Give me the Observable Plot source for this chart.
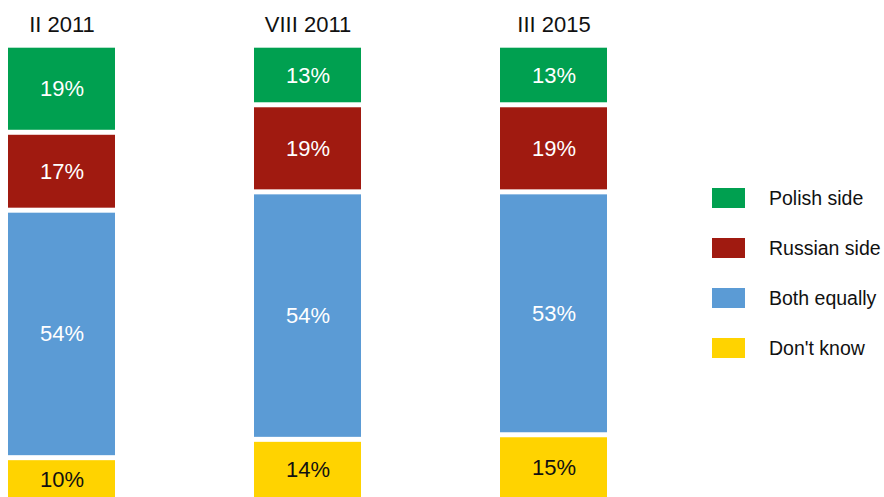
<!DOCTYPE html>
<html>
<head>
<meta charset="utf-8">
<script src="https://cdn.jsdelivr.net/npm/d3@7"></script>
<script src="https://cdn.jsdelivr.net/npm/@observablehq/plot@0.6"></script>
<style>
  html, body { margin: 0; padding: 0; background: #fff; overflow: hidden; }
  #wrap { position: relative; width: 884px; height: 497px; font-family: "Liberation Sans", Arial, sans-serif; }
  #legend { position: absolute; left: 712px; top: 188px; }
  .row { display: flex; align-items: center; height: 20px; margin-bottom: 30px; }
  .sw { width: 33px; height: 20px; margin-right: 24px; }
  .lab { font-size: 19.5px; color: #111; white-space: nowrap; }
</style>
</head>
<body>
<div id="wrap"></div>
<script>
const periods = ["II 2011", "VIII 2011", "III 2015"];
const answers = ["Polish side", "Russian side", "Both equally", "Don't know"];
const colors = ["#00A050", "#A01A10", "#5B9BD5", "#FFD300"];
const polish = [19, 13, 13];
const russian = [17, 19, 19];
const both = [54, 54, 53];
const dontKnow = [10, 14, 15];

const series = [polish, russian, both, dontKnow];
const data = [];
periods.forEach((p, i) => {
  answers.forEach((a, j) => data.push({period: p, answer: a, value: series[j][i]}));
});
const stackOrder = ["Don't know", "Both equally", "Russian side", "Polish side"];
const isDK = d => d.answer === "Don't know";

const chart = Plot.plot({
  width: 884,
  height: 497,
  marginLeft: 8,
  marginRight: 276,
  marginTop: 45.2,
  marginBottom: -6.5,
  style: {fontFamily: "Liberation Sans, Arial, sans-serif", background: "white"},
  x: {domain: periods, paddingInner: 0.564, paddingOuter: 0, axis: null},
  y: {domain: [0, 100], axis: null},
  color: {domain: answers, range: colors},
  marks: [
    Plot.barY(data, Plot.stackY({
      x: "period", y: "value", z: "answer", fill: "answer",
      order: stackOrder, insetTop: 2.5, insetBottom: 2.5
    })),
    Plot.text(data, Plot.stackY({
      x: "period", y: "value", z: "answer", order: stackOrder,
      text: d => isDK(d) ? "" : d.value + "%",
      fill: "#ffffff", fontSize: 22
    })),
    Plot.text(data, Plot.stackY({
      x: "period", y: "value", z: "answer", order: stackOrder,
      text: d => isDK(d) ? d.value + "%" : "",
      fill: "#111111", fontSize: 22, dy: -1.5
    })),
    Plot.axisX({anchor: "top", tickSize: 0, tickPadding: 14, fontSize: 22, color: "#111", label: null})
  ]
});
document.getElementById("wrap").appendChild(chart);

const legend = document.createElement("div");
legend.id = "legend";
answers.forEach((a, j) => {
  const row = document.createElement("div");
  row.className = "row";
  const sw = document.createElement("div");
  sw.className = "sw";
  sw.style.background = colors[j];
  const lab = document.createElement("div");
  lab.className = "lab";
  lab.textContent = a;
  row.appendChild(sw); row.appendChild(lab);
  legend.appendChild(row);
});
document.getElementById("wrap").appendChild(legend);
</script>
</body>
</html>
